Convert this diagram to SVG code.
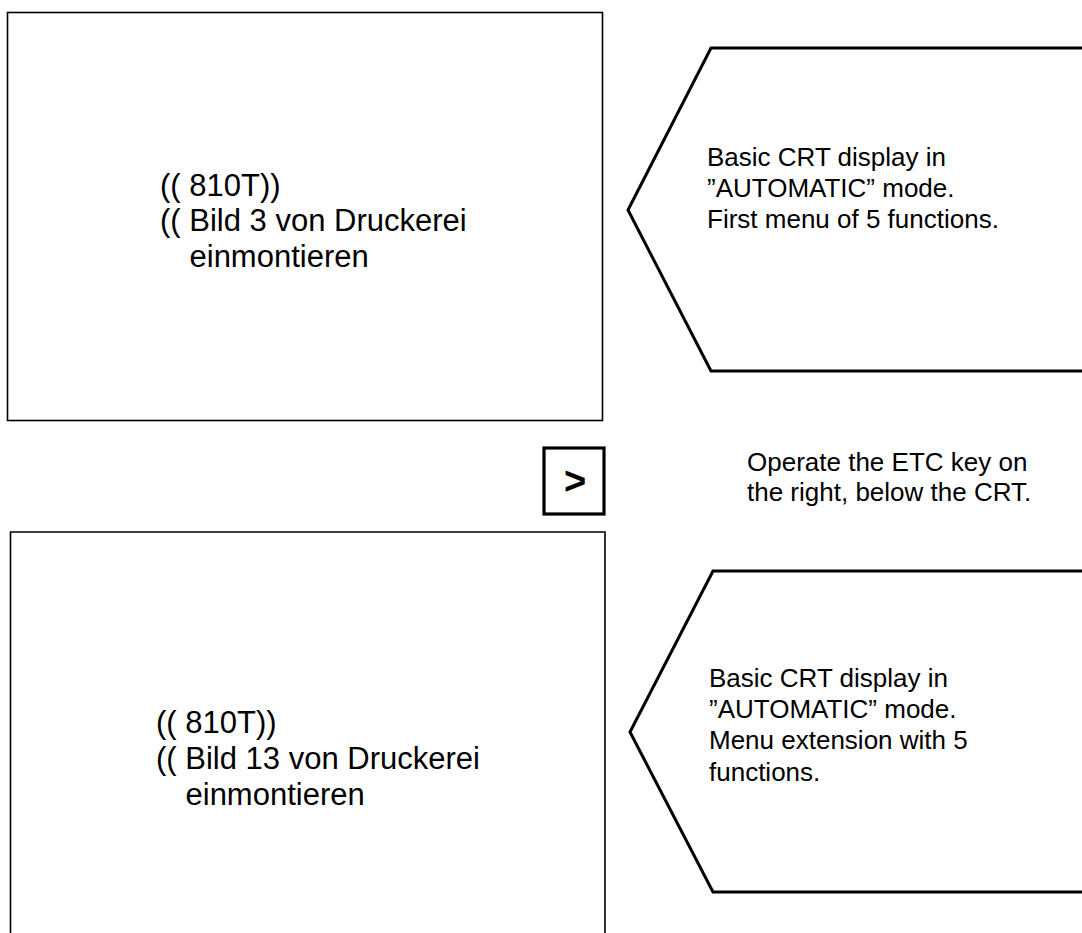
<svg xmlns="http://www.w3.org/2000/svg" width="1082" height="933" viewBox="0 0 1082 933">
<style>
.bg{fill:#fff}
.frame{fill:none;stroke:#000;stroke-width:1.6}
.hex{fill:none;stroke:#000;stroke-width:3;stroke-linejoin:miter}
.key{fill:none;stroke:#000;stroke-width:3.2}
.t{font-family:"Liberation Sans",Arial,sans-serif;fill:#000}
.big{font-size:31px}
.mid{font-size:26px}
.keyt{font-size:38px;font-weight:bold}
</style>
<rect class="bg" x="0" y="0" width="1082" height="933"/>
<g id="picture1">
<rect class="frame" x="7.5" y="12.5" width="595" height="408"/>
<text class="t big" x="160" y="196">(( 810T))</text>
<text class="t big" x="160" y="231">(( Bild 3 von Druckerei</text>
<text class="t big" x="189.5" y="267">einmontieren</text>
</g>
<g id="note1">
<polyline class="hex" points="1090,48 711,48 628,210 711,371 1090,371"/>
<text class="t mid" x="707" y="166">Basic CRT display in</text>
<text class="t mid" x="707" y="197">”AUTOMATIC” mode.</text>
<text class="t mid" x="707" y="228">First menu of 5 functions.</text>
</g>
<g id="etc-key">
<rect class="key" x="544" y="448" width="60" height="66"/>
<text class="t keyt" x="575" y="494" text-anchor="middle">&gt;</text>
</g>
<g id="step-text">
<text class="t mid" x="747" y="471">Operate the ETC key on</text>
<text class="t mid" x="747" y="501">the right, below the CRT.</text>
</g>
<g id="picture2">
<polyline class="frame" points="10.5,940 10.5,532 605,532 605,940"/>
<text class="t big" x="156" y="733">(( 810T))</text>
<text class="t big" x="156" y="769">(( Bild 13 von Druckerei</text>
<text class="t big" x="185.5" y="805">einmontieren</text>
</g>
<g id="note2">
<polyline class="hex" points="1090,571 713,571 630,732 713,892 1090,892"/>
<text class="t mid" x="709" y="687">Basic CRT display in</text>
<text class="t mid" x="709" y="718">”AUTOMATIC” mode.</text>
<text class="t mid" x="709" y="749">Menu extension with 5</text>
<text class="t mid" x="709" y="781">functions.</text>
</g>
<g id="connectors"></g>
</svg>
